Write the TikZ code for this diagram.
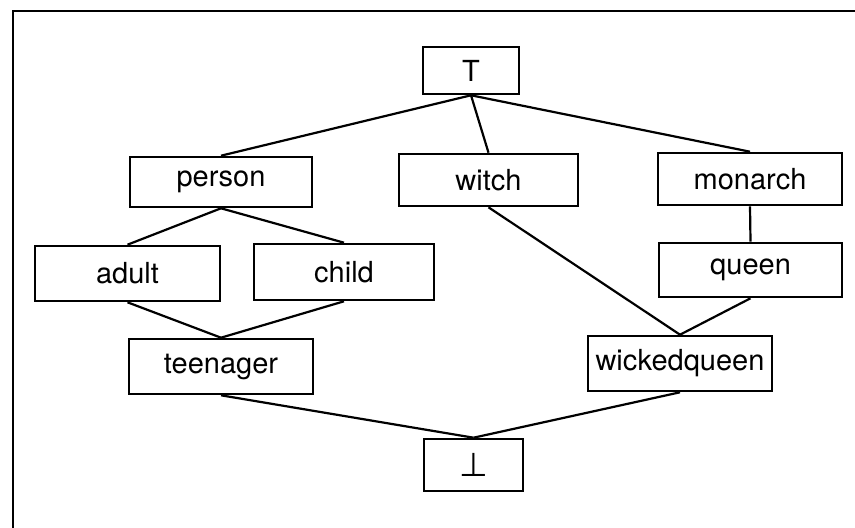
\documentclass[tikz,border=0pt]{standalone}
\usepackage{fontspec}
\setmainfont{TeX Gyre Heros}
\newfontfamily\symfont{DejaVu Sans}
\begin{document}
\begin{tikzpicture}[x=0.5pt,y=-0.5pt,
  box/.style={draw, line width=1.3pt, inner sep=0pt,
    font=\fontsize{14.5}{17}\selectfont},
  edge/.style={line width=1.1pt}]
\useasboundingbox (0,0) rectangle (855,528);
% frame (top and left sides)
\draw[line width=1.3pt] (13,528) -- (13,11) -- (855,11);
% lattice elements
\node[box, minimum width=48pt, minimum height=23.5pt] (top) at (471,70.5) {T};
\node[box, minimum width=91pt, minimum height=25pt] (person) at (221,182) {person};
\node[box, minimum width=89.5pt, minimum height=26pt] (witch) at (488.5,180) {witch};
\node[box, minimum width=92pt, minimum height=26pt] (monarch) at (750,179) {monarch};
\node[box, minimum width=92.5pt, minimum height=27.5pt] (adult) at (127.5,273.5) {adult};
\node[box, minimum width=90pt, minimum height=28pt] (child) at (344,272) {child};
\node[box, minimum width=91.5pt, minimum height=27pt] (queen) at (750.5,270) {queen};
\node[box, minimum width=92pt, minimum height=27.5pt] (teen) at (221,366.5) {teenager};
\node[box, minimum width=92pt, minimum height=27.5pt] (wq) at (680,363.5) {wickedqueen};
\node[box, minimum width=49.5pt, minimum height=26pt] (bot) at (473.5,465)
  {\symfont\fontsize{16.5}{18}\selectfont ⊥};
% order relations
\draw[edge] (top.south) -- (person.north);
\draw[edge] (top.south) -- (witch.north);
\draw[edge] (top.south) -- (monarch.north);
\draw[edge] (person.south) -- (adult.north);
\draw[edge] (person.south) -- (child.north);
\draw[edge] (monarch.south) -- (queen.north);
\draw[edge] (adult.south) -- (teen.north);
\draw[edge] (child.south) -- (teen.north);
\draw[edge] (witch.south) -- (wq.north);
\draw[edge] (queen.south) -- (wq.north);
\draw[edge] (teen.south) -- (bot.north);
\draw[edge] (wq.south) -- (bot.north);
\end{tikzpicture}
\end{document}
